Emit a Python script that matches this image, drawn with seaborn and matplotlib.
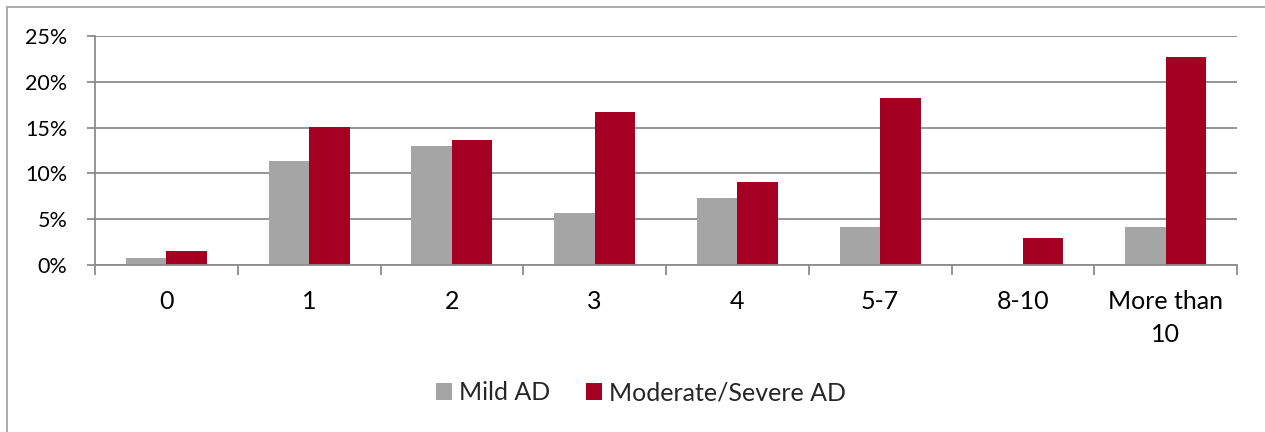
import matplotlib
matplotlib.use("Agg")
import matplotlib.pyplot as plt
import seaborn as sns
import pandas as pd
from matplotlib.patches import Patch
from matplotlib.lines import Line2D
from matplotlib.ticker import FuncFormatter, FixedLocator

categories = ["0", "1", "2", "3", "4", "5-7", "8-10", "More than\n10"]
mild = [0.8, 11.4, 13.0, 5.7, 7.3, 4.1, 0.0, 4.1]
moderate = [1.5, 15.1, 13.6, 16.7, 9.1, 18.2, 3.0, 22.7]
series_names = ["Mild AD", "Moderate/Severe AD"]
colors = ["#A5A5A5", "#A50021"]
yticks = [0, 5, 10, 15, 20, 25]

df = pd.DataFrame({
    "cat": categories * 2,
    "val": mild + moderate,
    "series": [series_names[0]] * len(categories) + [series_names[1]] * len(categories),
})

sns.set_theme(style="white")
plt.rcParams["font.family"] = ["Lato", "DejaVu Sans"]

fig = plt.figure(figsize=(12.65, 4.32), dpi=100)
W, H = 1265, 432
ax = fig.add_axes([95 / W, 1 - 265 / H, (1237 - 95) / W, (265 - 36) / H])

sns.barplot(data=df, x="cat", y="val", hue="series", palette=colors,
            width=0.567, saturation=1, ax=ax, legend=False, order=categories,
            hue_order=series_names, linewidth=0)

ax.set_xlim(-0.5, len(categories) - 0.5)
ax.set_ylim(0, 25)
ax.set_yticks(yticks)
ax.yaxis.set_major_formatter(FuncFormatter(lambda v, p: f"{int(v)}%"))
ax.set_xlabel("")
ax.set_ylabel("")

gridc = "#8C8C8C"
ax.yaxis.grid(True, color=gridc, linewidth=1.3)
ax.set_axisbelow(True)
for s in ["top", "right"]:
    ax.spines[s].set_visible(False)
for s in ["left", "bottom"]:
    ax.spines[s].set_color(gridc)
    ax.spines[s].set_linewidth(1.3)

ax.tick_params(axis="y", which="major", length=6, width=1.3, color=gridc,
               labelsize=15.5, pad=14, left=True, labelcolor="#000000")
ax.tick_params(axis="x", which="major", length=0, labelsize=18, pad=18,
               labelcolor="#000000")
ax.xaxis.set_minor_locator(FixedLocator([i + 0.5 for i in range(-1, len(categories))]))
ax.tick_params(axis="x", which="minor", length=7, width=1.3, color=gridc, bottom=True)
for lab in ax.get_xticklabels():
    lab.set_linespacing(1.5)
    lab.set_verticalalignment("top")

handles = [Patch(facecolor=c, edgecolor="none") for c in colors]
fig.legend(handles, series_names, loc="center",
           bbox_to_anchor=(641 / W, 1 - 393 / H), ncol=2, frameon=False,
           fontsize=18, handlelength=0.64, handleheight=0.64,
           handletextpad=0.3, columnspacing=1.4)

# partial chart border (left and top)
fig.add_artist(Line2D([6.5 / W, 6.5 / W], [0, 1 - 7 / H], transform=fig.transFigure,
                      color="#A6A6A6", linewidth=1.3))
fig.add_artist(Line2D([6.5 / W, 1.0], [1 - 7 / H, 1 - 7 / H], transform=fig.transFigure,
                      color="#A6A6A6", linewidth=1.3))

fig.savefig("out.png", dpi=100)
